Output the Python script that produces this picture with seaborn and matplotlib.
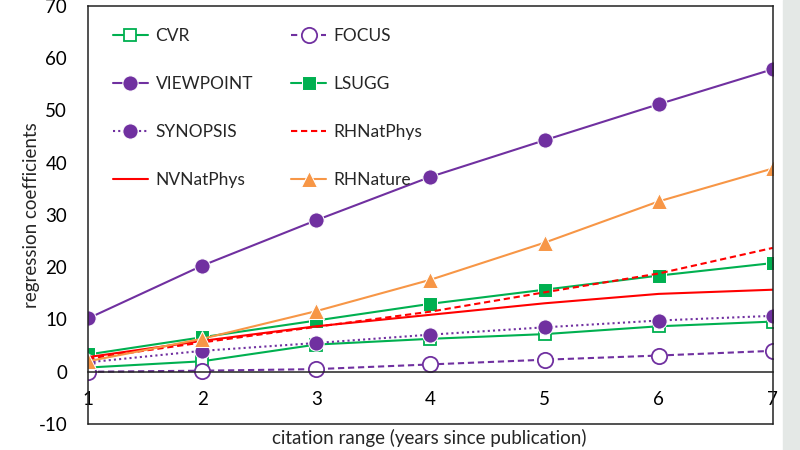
import matplotlib
matplotlib.use("Agg")
import matplotlib.pyplot as plt
from matplotlib.patches import Rectangle
import seaborn as sns

# values
years = [1, 2, 3, 4, 5, 6, 7]
cvr = [0.8, 2.0, 5.2, 6.3, 7.2, 8.7, 9.6]
focus = [0.0, 0.2, 0.5, 1.4, 2.3, 3.1, 4.0]
viewpoint = [10.2, 20.3, 29.0, 37.3, 44.3, 51.2, 57.9]
lsugg = [3.3, 6.6, 9.8, 13.0, 15.7, 18.4, 20.8]
synopsis = [1.8, 4.0, 5.5, 7.1, 8.5, 9.8, 10.7]
rh_natphys = [2.5, 5.6, 8.6, 11.5, 15.2, 18.8, 23.7]
nv_natphys = [2.8, 5.9, 8.7, 10.9, 13.1, 14.9, 15.7]
rh_nature = [2.0, 6.3, 11.6, 17.6, 24.7, 32.6, 38.9]

PURPLE = "#7030A0"
GREEN = "#00B050"
RED = "#FF0000"
ORANGE = "#F79646"

sns.set_style("white")
plt.rcParams["font.family"] = ["Lato", "DejaVu Sans"]
plt.rcParams["axes.unicode_minus"] = False

fig = plt.figure(figsize=(8, 4.5), dpi=100)
fig.patches.append(Rectangle((0.979, 0), 0.021, 1, transform=fig.transFigure,
                             color="#e4e8e6", zorder=-1))
ax = fig.add_axes([0.11, 0.0578, 0.856, 0.9289])

series = [
    ("CVR", cvr, dict(color=GREEN, marker="s", markersize=9, mfc="white", mec=GREEN, mew=1.3)),
    ("FOCUS", focus, dict(color=PURPLE, marker="o", markersize=11, mfc="white", mec=PURPLE, mew=1.3,
                          linestyle=(0, (3, 1.8)))),
    ("VIEWPOINT", viewpoint, dict(color=PURPLE, marker="o", markersize=11)),
    ("LSUGG", lsugg, dict(color=GREEN, marker="s", markersize=10)),
    ("SYNOPSIS", synopsis, dict(color=PURPLE, marker="o", markersize=11, linestyle=(0, (1, 1.5)))),
    ("RHNatPhys", rh_natphys, dict(color=RED, linestyle=(0, (3, 1.8)))),
    ("NVNatPhys", nv_natphys, dict(color=RED)),
    ("RHNature", rh_nature, dict(color=ORANGE, marker="^", markersize=11)),
]

handles = {}
for name, vals, style in series:
    sns.lineplot(x=years, y=vals, ax=ax, linewidth=1.5, label=name, **style)
    handles[name] = ax.get_lines()[-1]

ax.set_xlim(1, 7)
ax.set_ylim(-10, 70)
ax.set_yticks(range(-10, 71, 10))
ax.set_xticks(years)

# x axis sits on zero, frame closed at the bottom
ax.spines["bottom"].set_position(("data", 0))
for s in ax.spines.values():
    s.set_color("#222222")
    s.set_linewidth(1.1)
ax.axhline(-10, color="#222222", linewidth=1.1, clip_on=False)

ax.tick_params(axis="y", direction="in", length=4.5, width=1.1, pad=15, labelsize=13.5, colors="#222222")
ax.tick_params(axis="x", direction="out", length=4, width=1.1, pad=10, labelsize=13.5, colors="#222222")
ax.tick_params(axis="both", labelcolor="black")

ax.set_ylabel("regression coefficients", fontsize=13.5)
ax.set_xlabel("citation range (years since publication)", fontsize=13.5)
ax.yaxis.set_label_coords(-0.07, 0.5)
ax.xaxis.set_label_coords(0.499, -0.012)

order = ["CVR", "VIEWPOINT", "SYNOPSIS", "NVNatPhys", "FOCUS", "LSUGG", "RHNatPhys", "RHNature"]
ax.legend([handles[n] for n in order], order, ncol=2, loc="upper left",
          bbox_to_anchor=(0.0365, 0.948), frameon=False, fontsize=12.5,
          handlelength=2.0, handletextpad=0.45, columnspacing=2.2,
          labelspacing=1.85, borderpad=0, borderaxespad=0)

fig.savefig("out.png", dpi=100)
